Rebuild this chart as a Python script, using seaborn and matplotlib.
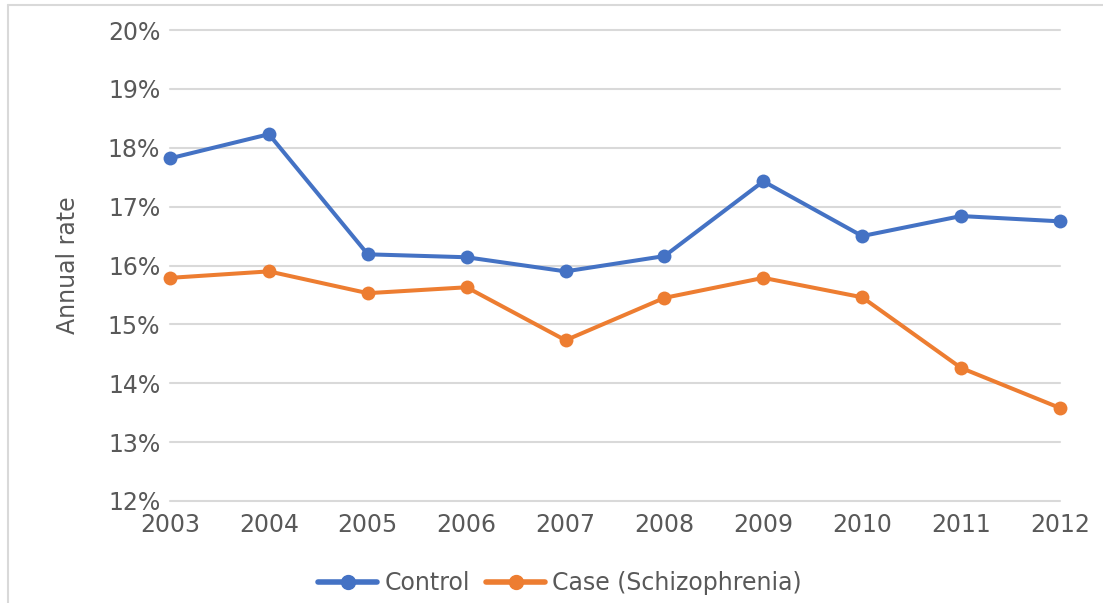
"""Tasa anual: control vs casos (esquizofrenia)."""

import matplotlib.pyplot as plt
import matplotlib.lines as mlines
import pandas as pd
import seaborn as sns
from matplotlib.ticker import FuncFormatter, MultipleLocator

years = [2003, 2004, 2005, 2006, 2007, 2008, 2009, 2010, 2011, 2012]
control = [17.82, 18.23, 16.19, 16.14, 15.90, 16.16, 17.43, 16.50, 16.84, 16.75]
case_scz = [15.79, 15.90, 15.53, 15.63, 14.73, 15.45, 15.79, 15.46, 14.26, 13.58]
series_names = ["Control", "Case (Schizophrenia)"]
colors = ["#4472C4", "#ED7D31"]

df = pd.DataFrame({
    "Year": years * 2,
    "Rate": control + case_scz,
    "Group": [series_names[0]] * len(years) + [series_names[1]] * len(years),
})

sns.set_style("white")
plt.rcParams["font.family"] = ["DejaVu Sans"]
text_color = "#595959"
grid_color = "#D9D9D9"
fsize = 17

fig = plt.figure(figsize=(11.03, 6.03), dpi=100)
ax = fig.add_axes([170 / 1103, 1 - 501 / 603, 890 / 1103, 471 / 603])

sns.lineplot(
    data=df, x="Year", y="Rate", hue="Group", palette=colors,
    marker="o", markersize=10, markeredgewidth=0, linewidth=2.9,
    ax=ax, legend=False, zorder=3,
)
for ln in ax.lines:
    ln.set_clip_on(False)

ax.set_xlim(years[0], years[-1])
ax.set_ylim(12, 20)
ax.set_xticks(years)
ax.yaxis.set_major_locator(MultipleLocator(1))
ax.yaxis.set_major_formatter(FuncFormatter(lambda v, _: f"{v:.0f}%"))
ax.grid(axis="y", color=grid_color, linewidth=1.5, zorder=0)
ax.grid(axis="x", visible=False)
for gl in ax.get_ygridlines():
    gl.set_clip_on(False)
for s in ax.spines.values():
    s.set_visible(False)
ax.tick_params(axis="both", length=0, labelsize=fsize, colors=text_color)
ax.tick_params(axis="y", pad=7)
ax.tick_params(axis="x", pad=9)
ax.set_xlabel("")
ax.set_ylabel("Annual rate", fontsize=fsize, color=text_color, labelpad=20)

handles = [
    mlines.Line2D([], [], color=c, marker="o", markersize=10, linewidth=4)
    for c in colors
]
fig.legend(
    handles, series_names, loc="center", ncol=2, frameon=False,
    bbox_to_anchor=(560 / 1103, 1 - 583 / 603), fontsize=fsize,
    labelcolor=text_color, handlelength=2.5, columnspacing=0.7, handletextpad=0.3,
)

# marco del grafico
fig.add_artist(mlines.Line2D([7.5 / 1103, 7.5 / 1103], [0, 1 - 5 / 603],
                             transform=fig.transFigure, color=grid_color, linewidth=1.5))
fig.add_artist(mlines.Line2D([7.5 / 1103, 1], [1 - 5 / 603, 1 - 5 / 603],
                             transform=fig.transFigure, color=grid_color, linewidth=1.5))

fig.savefig("out.png", dpi=100)
